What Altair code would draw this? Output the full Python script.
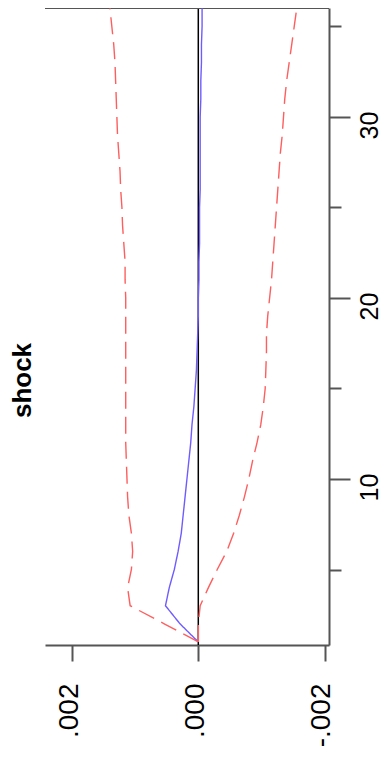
import altair as alt
import pandas as pd

# ---- data (impulse response, horizon 1..36) ----
periods = [1, 2, 3, 4, 5, 6, 7, 8, 9, 10, 11, 12, 13, 14, 15, 16, 17, 18,
           19, 20, 21, 22, 23, 24, 25, 26, 27, 28, 29, 30, 31, 32, 33, 34, 35, 36]
response = [0.0, 0.00029, 0.00052, 0.00046, 0.00038, 0.00032, 0.00027, 0.00024,
            0.00021, 0.00018, 0.00015, 0.00012, 0.00010, 0.00007, 0.00005, 0.00003,
            0.00002, 0.00001, 0.0, 0.0, -0.00001, -0.00001, -0.00002, -0.00002,
            -0.00002, -0.00003, -0.00003, -0.00003, -0.00003, -0.00003, -0.00004,
            -0.00004, -0.00005, -0.00005, -0.00006, -0.00006]
upper = [0.0, 0.00054, 0.00108, 0.00112, 0.00106, 0.00104, 0.00106, 0.00110,
         0.00112, 0.00113, 0.00114, 0.00115, 0.00115, 0.00115, 0.00115, 0.00115,
         0.00115, 0.00115, 0.00115, 0.00115, 0.00116, 0.00116, 0.00118, 0.00120,
         0.00121, 0.00123, 0.00124, 0.00126, 0.00128, 0.00129, 0.00130, 0.00131,
         0.00132, 0.00134, 0.00137, 0.00140]
lower = [0.0, 0.0, -0.00003, -0.00016, -0.00030, -0.00045, -0.00056, -0.00065,
         -0.00073, -0.00080, -0.00086, -0.00093, -0.00099, -0.00103, -0.00106,
         -0.00107, -0.00108, -0.00108, -0.00110, -0.00113, -0.00116, -0.00118,
         -0.00120, -0.00122, -0.00124, -0.00126, -0.00128, -0.00130, -0.00133,
         -0.00135, -0.00137, -0.00140, -0.00144, -0.00148, -0.00152, -0.00156]

value_ticks = [0.002, 0.0, -0.002]
value_tick_labels = [".002", ".000", "-.002"]
period_ticks = [5, 10, 15, 20, 25, 30, 35]
period_labelled = [10, 20, 30]
title_text = "shock"

series_names = ["response", "upper", "lower"]
series_colors = ["#6f5cff", "#ff5e5e", "#ff5e5e"]
series_dash = [[1, 0], [17, 8], [17, 8]]

# ---- tables ----
df = pd.DataFrame({"period": periods, "response": response,
                   "upper": upper, "lower": lower})
long_df = df.melt("period", var_name="series", value_name="value")

X_DOMAIN = [-0.002071, 0.002429]
Y_DOMAIN = [0.83, 36.02]
FONT = "Liberation Sans"

xscale = alt.Scale(domain=X_DOMAIN, nice=False, zero=False, reverse=True)
yscale = alt.Scale(domain=Y_DOMAIN, nice=False, zero=False)

label_expr_x = " : ".join(
    [f"abs(datum.value - ({v})) < 1e-7 ? '{l}'" for v, l in zip(value_ticks, value_tick_labels)]
) + " : ''"
label_expr_y = " || ".join([f"datum.value === {v}" for v in period_labelled]) + " ? datum.label : ''"

x_axis = alt.Axis(orient="bottom", values=value_ticks, labelExpr=label_expr_x,
                  title=None, grid=False, domainColor="#555555", domainWidth=2,
                  tickColor="#555555", tickWidth=2, tickSize=16,
                  labelAngle=270, labelAlign="right", labelBaseline="middle",
                  labelPadding=22, labelFontSize=28, labelFont=FONT,
                  labelColor="black", labelOffset=-3, labelFlush=False,
                  labelOverlap=False)
y_axis = alt.Axis(orient="right", values=period_ticks, labelExpr=label_expr_y,
                  title=None, grid=False, domainColor="#555555", domainWidth=2,
                  tickColor="#555555", tickWidth=2,
                  tickSize={"condition": {"test": "datum.value % 10 === 0", "value": 21},
                            "value": 12},
                  labelAngle=270, labelAlign="center", labelBaseline="top",
                  labelPadding=7, labelFontSize=25, labelFont=FONT,
                  labelColor="black", labelOffset=8, labelFlush=False,
                  labelOverlap=False)

lines = alt.Chart(long_df).mark_line(strokeWidth=1.4, clip=True).encode(
    x=alt.X("value:Q", scale=xscale, axis=x_axis),
    y=alt.Y("period:Q", scale=yscale, axis=y_axis, sort=None),
    order="period:Q",
    color=alt.Color("series:N", scale=alt.Scale(domain=series_names, range=series_colors),
                    legend=None),
    strokeDash=alt.StrokeDash("series:N", scale=alt.Scale(domain=series_names, range=series_dash),
                              legend=None),
)

one = pd.DataFrame({"k": [0]})
zero_rule = alt.Chart(one).mark_rule(color="black", strokeWidth=1.5).encode(
    x=alt.datum(0.0)
)
top_rule = alt.Chart(one).mark_rule(color="#555555", strokeWidth=2).encode(
    y=alt.datum(Y_DOMAIN[1])
)
title = alt.Chart(pd.DataFrame({"t": [title_text]})).mark_text(
    angle=270, fontSize=26, fontWeight="bold", font=FONT, color="black",
    align="center", baseline="middle"
).encode(text="t:N", x=alt.value(-22.5), y=alt.value(372.5))

chart = alt.layer(zero_rule, top_rule, lines, title).properties(
    width=284, height=637,
    autosize=alt.AutoSizeParams(type="none"),
    padding={"left": 37, "top": 0, "right": 53, "bottom": 112},
    background="white",
).configure_view(stroke=None)

chart.save("out.html", embed_options={"renderer": "svg", "actions": False})
